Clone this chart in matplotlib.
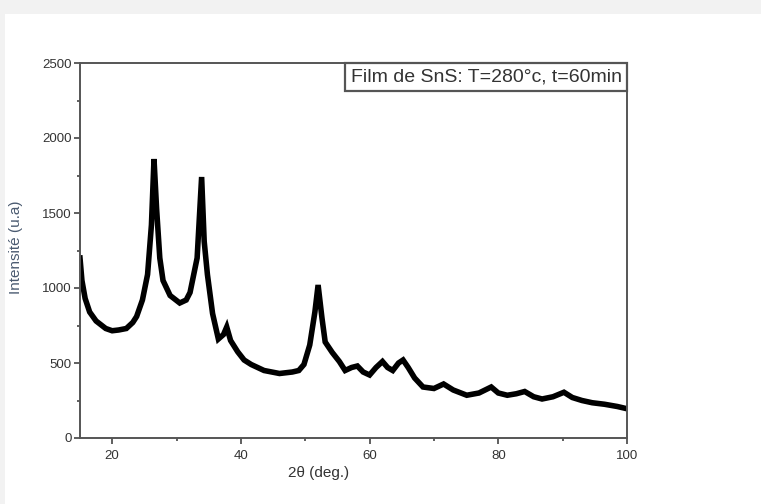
import matplotlib
matplotlib.use("Agg")
from matplotlib import pyplot as plt
from matplotlib.offsetbox import AnchoredText
from matplotlib.patches import Rectangle

plt.rcParams["font.family"] = ["Liberation Sans", "DejaVu Sans"]

# XRD pattern
two_theta = [15.0, 15.3, 15.8, 16.5, 17.5, 19.0, 20.0, 21.0, 22.2, 23.2, 23.8, 24.7,
             25.5, 26.1, 26.5, 26.9, 27.4, 27.9, 29.0, 30.5, 31.5, 32.1, 33.2, 33.9,
             34.3, 34.8, 35.6, 36.5, 37.3, 37.8, 38.4, 39.5, 40.5, 41.6, 43.6, 46.0,
             48.0, 49.0, 49.8, 50.7, 51.5, 52.0, 52.6, 53.1, 54.2, 55.3, 56.2, 57.2,
             58.1, 59.0, 60.0, 61.0, 62.0, 62.8, 63.6, 64.5, 65.2, 66.0, 67.0, 68.3,
             70.0, 71.5, 73.0, 75.1, 77.0, 78.9, 80.0, 81.4, 82.8, 84.1, 85.5, 86.8,
             88.5, 90.2, 91.5, 93.0, 94.6, 96.5, 98.5, 100.0]
intensity = [1200, 1050, 930, 840, 780, 730, 715, 720, 730, 770, 810, 920,
             1090, 1420, 1860, 1530, 1200, 1050, 950, 900, 920, 970, 1200, 1740,
             1310, 1090, 830, 660, 690, 740, 650, 575, 520, 490, 450, 430,
             440, 450, 490, 620, 840, 1020, 800, 640, 570, 510, 450, 470,
             480, 440, 420, 470, 510, 470, 450, 500, 520, 470, 400, 340,
             330, 360, 320, 285, 300, 340, 300, 285, 295, 310, 275, 260,
             275, 305, 270, 250, 235, 225, 210, 195]

x_ticks = [20, 40, 60, 80, 100]
y_ticks = [0, 500, 1000, 1500, 2000, 2500]
legend_text = "Film de SnS: T=280°c, t=60min"

fig = plt.figure(figsize=(7.61, 5.04), dpi=100)
# screenshot frame
fig.patches.append(Rectangle((0, 1 - 14 / 504), 1, 14 / 504, transform=fig.transFigure,
                             facecolor="#f2f2f2", edgecolor="none", zorder=-1))
fig.patches.append(Rectangle((0, 0), 5 / 761, 1, transform=fig.transFigure,
                             facecolor="#f2f2f2", edgecolor="none", zorder=-1))

ax = fig.add_axes([80 / 761, 66 / 504, 547 / 761, 375 / 504])
ax.plot(two_theta, intensity, color="black", lw=4, solid_joinstyle="miter")

ax.set_xlim(15, 100)
ax.set_ylim(0, 2500)
ax.set_xticks(x_ticks)
ax.set_xticks([30, 50, 70, 90], minor=True)
ax.set_yticks(y_ticks)
ax.set_yticks([250, 750, 1250, 1750, 2250], minor=True)
ax.tick_params(which="both", direction="out", colors="#444444", labelsize=9.5,
               labelcolor="#333333", width=1.2)
ax.tick_params(which="major", length=4.5)
ax.tick_params(which="minor", length=2.5)
ax.tick_params(axis="x", which="major", pad=4)
ax.tick_params(axis="y", which="major", pad=1.5)
for s in ax.spines.values():
    s.set_color("#555555")
    s.set_linewidth(1.4)

ax.set_xlabel("2θ (deg.)", fontsize=11, color="#333333")
ax.xaxis.set_label_coords(0.437, -0.075)
ax.set_ylabel("Intensité (u.a)", fontsize=11, color="#4a5a70")
ax.yaxis.set_label_coords(-0.104, 0.51)

at = AnchoredText(legend_text, loc="upper right", pad=0.28, borderpad=0,
                  prop=dict(size=14, color="#333333"))
at.patch.set_edgecolor("#555555")
at.patch.set_linewidth(1.6)
ax.add_artist(at)

fig.savefig("out.png", dpi=100)
